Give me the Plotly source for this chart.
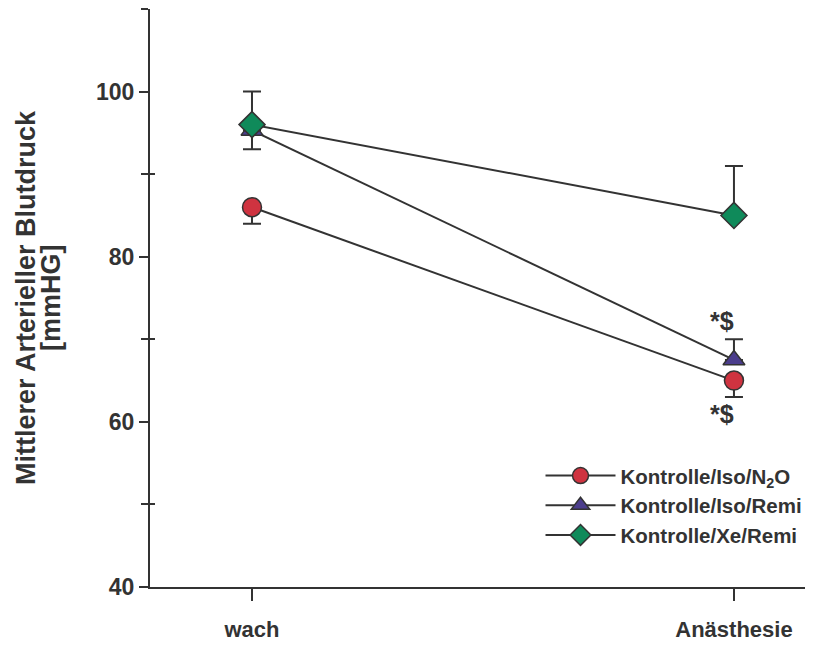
import plotly.graph_objects as go

categories = ["wach", "Anästhesie"]
x_pos = [0, 1]

n2o_vals = [86, 65]
n2o_err_minus = [2, 2]

remi_vals = [95.3, 67.5]
remi_err_plus = [0, 2.5]
remi_err_minus = [2.3, 0]

xe_vals = [96, 85]
xe_err_plus = [4, 6]

y_major = [40, 60, 80, 100]
y_minor = [50, 70, 90, 110]

names = ["Kontrolle/Iso/N<sub>2</sub>O", "Kontrolle/Iso/Remi", "Kontrolle/Xe/Remi"]
colors = ["#cf3340", "#4b3d8c", "#0f8a5a"]
symbols = ["circle", "triangle-up", "diamond"]

LINE = "#333333"
FONT = "Liberation Sans, Arial, Helvetica, sans-serif"

fig = go.Figure()

series = [
    (n2o_vals, dict(type="data", symmetric=False, array=[0, 0], arrayminus=n2o_err_minus)),
    (remi_vals, dict(type="data", symmetric=False, array=remi_err_plus, arrayminus=remi_err_minus)),
    (xe_vals, dict(type="data", symmetric=False, array=xe_err_plus, arrayminus=[0, 0])),
]
for i, (vals, err) in enumerate(series):
    err.update(color=LINE, thickness=2, width=9)
    fig.add_trace(go.Scatter(
        x=x_pos, y=vals, name=names[i], mode="lines+markers",
        line=dict(color=LINE, width=2),
        marker=dict(symbol=symbols[i], size=19 if i != 2 else 20, color=colors[i],
                    line=dict(color=LINE, width=1.5)),
        error_y=err,
    ))

fig.add_trace(go.Scatter(x=[0], y=[None], yaxis="y2", showlegend=False, hoverinfo="skip"))

ann_font = dict(size=25, color=LINE, family=FONT, weight="bold")
fig.add_annotation(x=1, y=remi_vals[1] + remi_err_plus[1], text="*$", showarrow=False,
                   xshift=-12, yanchor="bottom", yshift=2, font=ann_font)
fig.add_annotation(x=1, y=n2o_vals[1] - n2o_err_minus[1], text="*$", showarrow=False,
                   xshift=-12, yanchor="top", yshift=-1, font=ann_font)

title_font = dict(size=27, color=LINE, family=FONT, weight="bold")
fig.add_annotation(xref="paper", yref="paper", x=0, y=0.5, xshift=-124,
                   text="Mittlerer Arterieller Blutdruck", textangle=-90,
                   showarrow=False, xanchor="center", yanchor="middle", font=title_font)
fig.add_annotation(xref="paper", yref="paper", x=0, y=0.5, xshift=-99,
                   text="[mmHG]", textangle=-90,
                   showarrow=False, xanchor="center", yanchor="middle", font=title_font)

fig.update_layout(
    width=813, height=646,
    margin=dict(l=142, r=8, t=1, b=67),
    paper_bgcolor="white", plot_bgcolor="white",
    font=dict(family=FONT, color=LINE, size=18, weight="bold"),
    showlegend=True,
    legend=dict(x=0.589, y=0.227, xanchor="left", yanchor="top",
                font=dict(size=20.5, color=LINE, family=FONT, weight="bold"),
                bgcolor="rgba(0,0,0,0)", tracegroupgap=0, itemsizing="trace",
                itemwidth=70),
    xaxis=dict(range=[-0.2116, 1.164], tickvals=x_pos, ticktext=categories,
               showgrid=False, zeroline=False, showline=True, linecolor=LINE, linewidth=2,
               ticks="outside", ticklen=12, tickcolor=LINE, tickwidth=1.5,
               ticklabelstandoff=10,
               tickfont=dict(size=22, color=LINE, family=FONT, weight="bold")),
    yaxis=dict(range=[40, 110], tickvals=y_major,
               showgrid=False, zeroline=False, showline=True, linecolor=LINE, linewidth=2,
               ticks="outside", ticklen=9, tickcolor=LINE, tickwidth=1.5,
               minor=dict(tickvals=y_minor, ticks="outside", ticklen=7, tickcolor=LINE, tickwidth=1.5),
               tickfont=dict(size=23, color=LINE, family=FONT, weight="bold")),
    yaxis2=dict(range=[40, 110], overlaying="y", side="left", tickvals=y_minor,
                showticklabels=False, showgrid=False, zeroline=False, showline=False,
                ticks="inside", ticklen=5, tickcolor=LINE, tickwidth=1.5),
)

fig.write_html("out.html")
